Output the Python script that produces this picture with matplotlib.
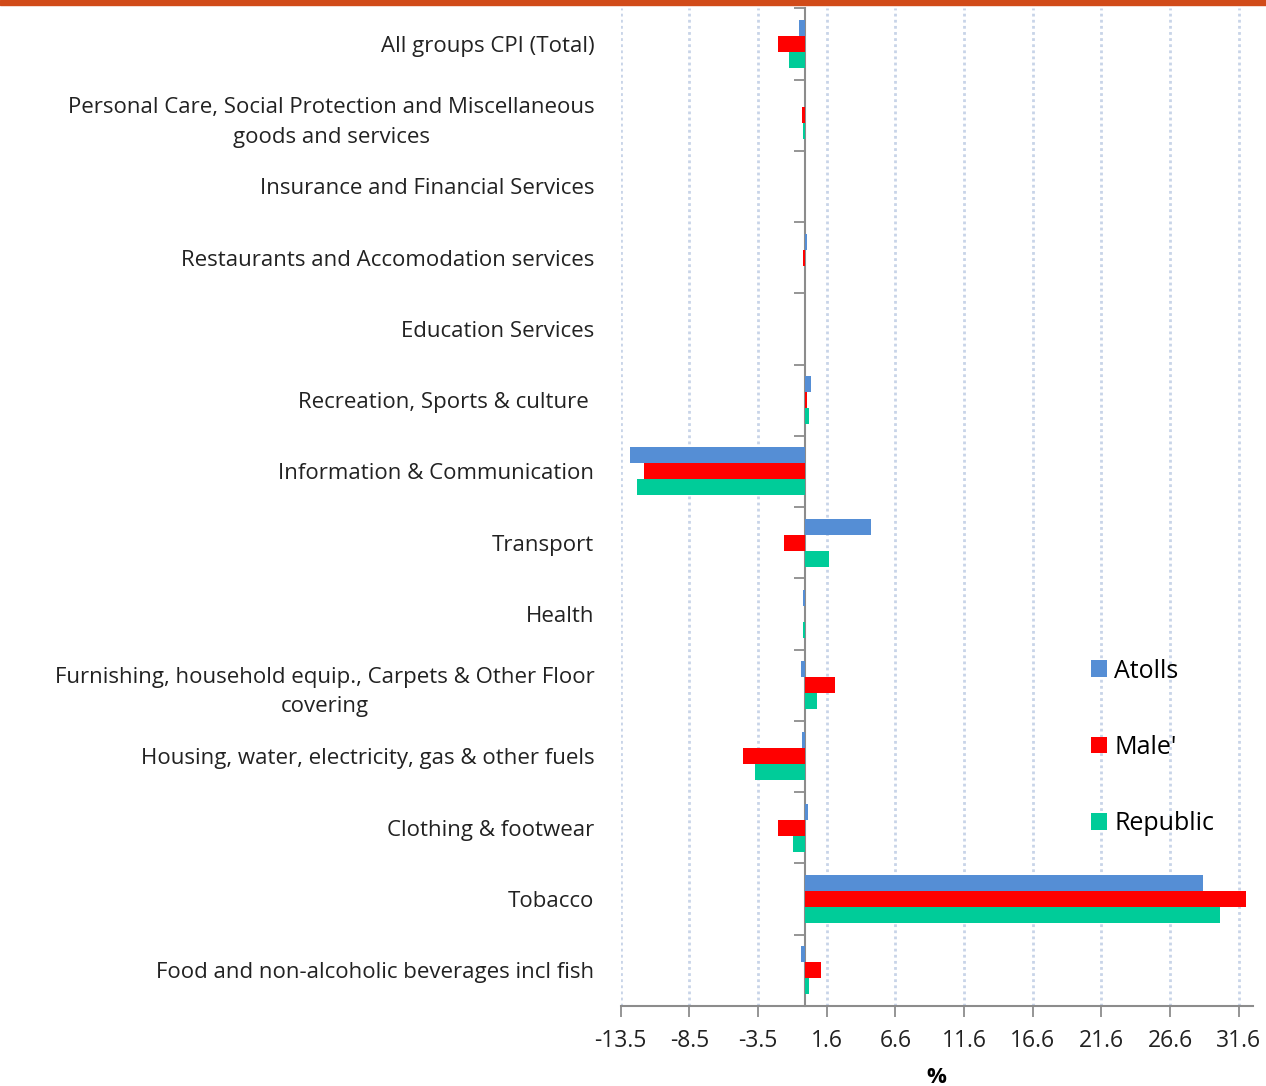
import numpy as np
import matplotlib.pyplot as plt
from matplotlib.patches import Rectangle

plt.rcParams['font.family'] = ['Open Sans', 'DejaVu Sans']

categories = [
    'All groups CPI (Total)',
    'Personal Care, Social Protection and Miscellaneous\ngoods and services',
    'Insurance and Financial Services',
    'Restaurants and Accomodation services',
    'Education Services',
    'Recreation, Sports & culture ',
    'Information & Communication',
    'Transport',
    'Health',
    'Furnishing, household equip., Carpets & Other Floor\ncovering',
    'Housing, water, electricity, gas & other fuels',
    'Clothing & footwear',
    'Tobacco',
    'Food and non-alcoholic beverages incl fish',
]

atolls = [-0.44, 0.0, 0.0, 0.15, 0.0, 0.39, -12.78, 4.75, -0.17, -0.34, -0.22, 0.22, 28.94, -0.34]
male = [-1.99, -0.24, 0.0, -0.17, 0.0, 0.12, -11.77, -1.53, 0.0, 2.15, -4.58, -1.99, 32.09, 1.11]
republic = [-1.23, -0.17, 0.0, 0.0, 0.0, 0.24, -12.23, 1.69, -0.15, 0.85, -3.66, -0.87, 30.22, 0.29]

series = ["Atolls", "Male'", "Republic"]
colors = ['#558ED5', '#FF0000', '#00CC99']

x_ticks = [-13.45 + 5 * k for k in range(10)]
x_labels = ['-13.5', '-8.5', '-3.5', '1.6', '6.6', '11.6', '16.6', '21.6', '26.6', '31.6']
x_min, x_max = -13.45, 32.57

fig = plt.figure(figsize=(12.66, 10.86), dpi=100)
ax = fig.add_axes([0.4903, 0.0739, 0.4992, 0.9184])

y = np.arange(len(categories))
h = 0.225
for i, (name, vals) in enumerate(zip(series, [atolls, male, republic])):
    ax.barh(y + (i - 1) * h, vals, height=h, color=colors[i], label=name, zorder=3)

ax.set_xlim(x_min, x_max)
ax.set_ylim(len(categories) - 0.5, -0.5)

# gridlines
ax.set_xticks(x_ticks)
ax.set_xticklabels(x_labels, fontsize=16.5, color='#222222')
ax.grid(axis='x', color='#C8D4E8', linestyle=(0, (1, 1.2)), linewidth=2.0, zorder=0)
ax.tick_params(axis='x', length=8, width=1.3, color='#8C8C8C', pad=9)

ax.set_yticks(y)
ax.set_yticklabels(categories, fontsize=16, color='#222222')
for lab in ax.get_yticklabels():
    lab.set_multialignment('center')
    lab.set_linespacing(1.55)
ax.tick_params(axis='y', length=0, pad=19)

for s in ['top', 'right', 'left']:
    ax.spines[s].set_visible(False)
ax.spines['bottom'].set_color('#8C8C8C')
ax.spines['bottom'].set_linewidth(1.5)

# zero axis with category boundary ticks
zero_loc = (0 - x_min) / (x_max - x_min)
sec = ax.secondary_yaxis(zero_loc)
sec.set_yticks(np.arange(len(categories) + 1) - 0.5)
sec.set_yticklabels([])
sec.tick_params(length=8, width=1.3, color='#8C8C8C')
sec.spines['left'].set_color('#8C8C8C')
sec.spines['left'].set_linewidth(1.5)

ax.set_xlabel('%', fontsize=16, fontweight='bold', labelpad=10)

ax.legend(loc='upper left', bbox_to_anchor=(1078 / 1266, 1 - 646 / 1086),
          bbox_transform=fig.transFigure, frameon=False, fontsize=18,
          handlelength=0.65, handleheight=0.65, handletextpad=0.3,
          labelspacing=2.05, borderpad=0)

fig.patches.append(Rectangle((0, 1 - 5 / 1086), 1, 5 / 1086, transform=fig.transFigure,
                             color='#D14B19', zorder=10))

fig.savefig('out.png', dpi=100)
